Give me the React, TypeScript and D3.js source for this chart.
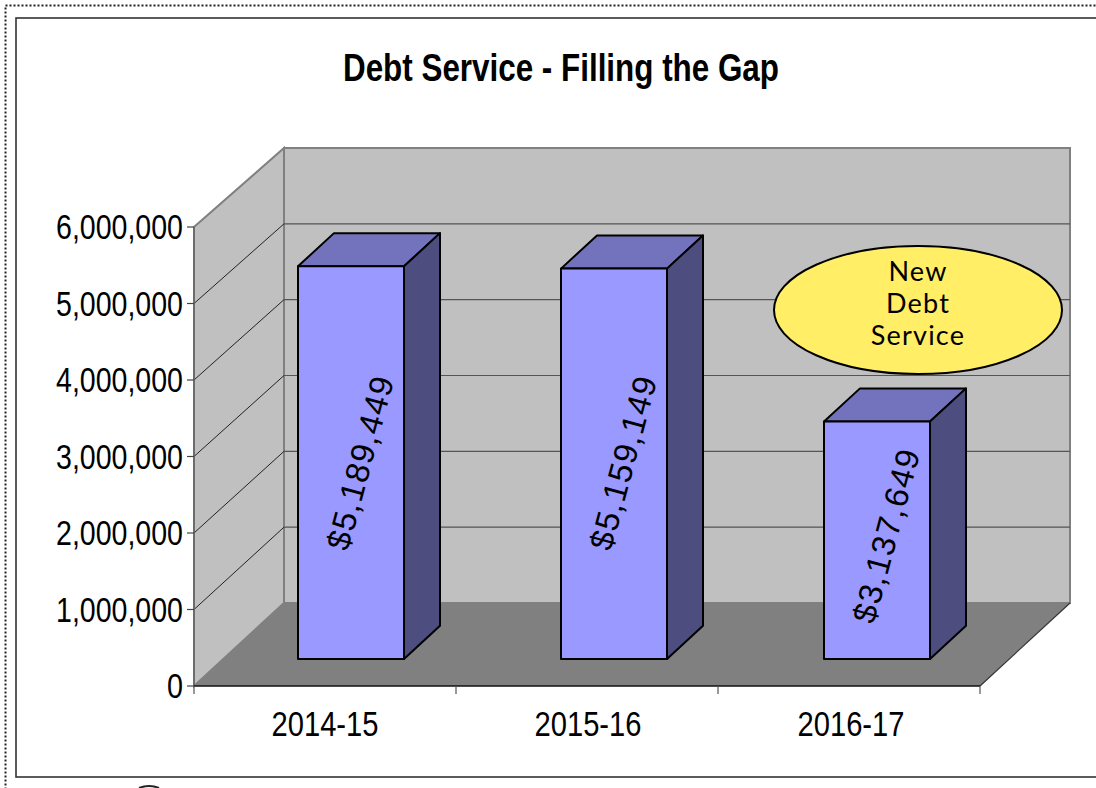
import React from "react";
import * as d3 from "d3";

const title = "Debt Service - Filling the Gap";
const categories = ["2014-15", "2015-16", "2016-17"];
const values = [5189449, 5159149, 3137649];
const barLabels = ["$5,189,449", "$5,159,149", "$3,137,649"];
const yTicks = [0, 1000000, 2000000, 3000000, 4000000, 5000000, 6000000];
const calloutLines = ["New", "Debt", "Service"];

const arial = "'Liberation Sans', Arial, sans-serif";
const depth = { dx: 90, dy: -83 };
const barDepth = 0.4;

export default function App() {
  const yFront = d3.scaleLinear().domain([0, 6000000]).range([686, 227]);
  const yBack = d3.scaleLinear().domain([0, 6000000]).range([603, 148]);
  const yBar = d3.scaleLinear().domain([0, 6000000]).range([659, 205]);
  const band = d3.scaleBand().domain(categories).range([194, 980]);
  const xBar = d3.scalePoint().domain(categories).range([351, 877]);
  const fmt = d3.format(",");
  const left = 194, right = 980;
  const bw = 106;
  const line = d3.line<[number, number]>();

  return (
    <svg width={1096} height={788} style={{ position: "absolute", left: 0, top: 0, background: "#fff" }}>
      <rect x={5.5} y={5.5} width={1200} height={800} fill="none" stroke="#222" strokeWidth={2} strokeDasharray="2 2" />
      <rect x={16} y={18} width={1200} height={759} fill="#fff" stroke="#333" strokeWidth={1.6} />
      <path d="M139 788 Q149 784 159 788" fill="none" stroke="#222" strokeWidth={2} />
      <text x={561} y={81} textAnchor="middle" fontFamily={arial} fontWeight="bold" fontSize={38} textLength={436} lengthAdjust="spacingAndGlyphs">{title}</text>

      {/* walls and floor */}
      <path d={line([[left + depth.dx, yBack(0)], [right + depth.dx, yBack(0)], [right + depth.dx, yBack(6000000)], [left + depth.dx, yBack(6000000)]]) + "Z"} fill="#c0c0c0" stroke="#808080" strokeWidth={2} />
      <path d={line([[left, yFront(0)], [left + depth.dx, yBack(0)], [left + depth.dx, yBack(6000000)], [left, yFront(6000000)]]) + "Z"} fill="#c0c0c0" stroke="#808080" strokeWidth={2} />
      <path d={line([[left, yFront(0)], [right, yFront(0)], [right + depth.dx, yBack(0)], [left + depth.dx, yBack(0)]]) + "Z"} fill="#808080" />
      {yTicks.slice(1, -1).map((t) => (
        <g key={t}>
          <line x1={left + depth.dx} x2={right + depth.dx} y1={yBack(t)} y2={yBack(t)} stroke="#555" strokeWidth={1.2} />
          <line x1={left} x2={left + depth.dx} y1={yFront(t)} y2={yBack(t)} stroke="#222" strokeWidth={1} />
        </g>
      ))}
      <line x1={right} x2={right + depth.dx} y1={yFront(0)} y2={yBack(0)} stroke="#333" strokeWidth={1.2} />
      <line x1={left} x2={left} y1={yFront(6000000)} y2={yFront(0)} stroke="#666" strokeWidth={1.5} />

      {/* axes */}
      <line x1={left} x2={right} y1={yFront(0)} y2={yFront(0)} stroke="#111" strokeWidth={1.5} />
      {yTicks.map((t) => (
        <g key={t}>
          <line x1={187} x2={left} y1={yFront(t)} y2={yFront(t)} stroke="#444" strokeWidth={1.2} />
          <text x={183} y={yFront(t) + 12} textAnchor="end" fontFamily={arial} fontSize={35} textLength={t === 0 ? 16 : 127} lengthAdjust="spacingAndGlyphs">{t === 0 ? "0" : fmt(t)}</text>
        </g>
      ))}
      {[...categories.map((c) => band(c)!), right].map((px) => (
        <line key={px} x1={px} x2={px} y1={686} y2={694} stroke="#555" strokeWidth={1.2} />
      ))}
      {categories.map((c) => (
        <text key={c} x={xBar(c)! - 26} y={736} textAnchor="middle" fontFamily={arial} fontSize={35} textLength={107} lengthAdjust="spacingAndGlyphs">{c}</text>
      ))}

      {/* bars */}
      {categories.map((c, i) => {
        const cx = xBar(c)!;
        const x0 = cx - bw / 2;
        const x1 = cx + bw / 2;
        const base = yBar(0);
        const top = yBar(values[i]);
        const dx = depth.dx * barDepth, dy = depth.dy * barDepth;
        return (
          <g key={c} stroke="#000" strokeWidth={2} strokeLinejoin="round">
            <path d={line([[x0, top], [x1, top], [x1 + dx, top + dy], [x0 + dx, top + dy]]) + "Z"} fill="#7373bd" />
            <path d={line([[x1, top], [x1 + dx, top + dy], [x1 + dx, base + dy], [x1, base]]) + "Z"} fill="#4d4d80" />
            <rect x={x0} y={top} width={bw} height={base - top} fill="#9999ff" />
            <text x={0} y={0} transform={`translate(${cx + 9},${i === 2 ? 536 : 463}) rotate(-75)`} stroke="none" textAnchor="middle" dominantBaseline="central" fontFamily={arial} fontSize={33} textLength={178} lengthAdjust="spacing">{barLabels[i]}</text>
          </g>
        );
      })}

      {/* callout */}
      <ellipse cx={918} cy={310} rx={144} ry={64} fill="#ffee66" stroke="#000" strokeWidth={2} />
      {calloutLines.map((t, i) => (
        <text key={t} x={918} y={281 + i * 32} textAnchor="middle" fontFamily="'Comic Sans MS', Lato, sans-serif" fontSize={27} letterSpacing={1.2}>{t}</text>
      ))}
    </svg>
  );
}
